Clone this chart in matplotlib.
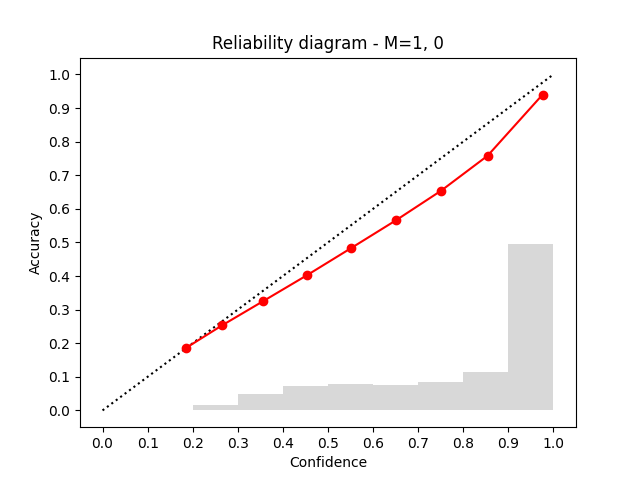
import numpy as np
import matplotlib
matplotlib.use('Agg')
import matplotlib.pyplot as plt

# mean confidence / accuracy per bin
conf = [0.184, 0.265, 0.356, 0.453, 0.550, 0.651, 0.751, 0.854, 0.976]
acc = [0.185, 0.253, 0.325, 0.402, 0.482, 0.566, 0.654, 0.758, 0.940]

# fraction of samples per bin
bin_left = [0.2, 0.3, 0.4, 0.5, 0.6, 0.7, 0.8, 0.9]
bin_frac = [0.015, 0.048, 0.074, 0.080, 0.077, 0.086, 0.113, 0.494]

ticks = np.arange(0, 1.01, 0.1)

fig, ax = plt.subplots(figsize=(6.4, 4.8), dpi=100)
ax.bar(bin_left, bin_frac, width=0.1, align='edge', color='grey', alpha=0.3)
ax.plot([0, 1], [0, 1], 'k:')
ax.plot(conf, acc, 'ro-')

ax.set_xticks(ticks)
ax.set_yticks(ticks)
ax.set_ylim(-0.05, 1.05)
ax.set_xlabel('Confidence')
ax.set_ylabel('Accuracy')
ax.set_title('Reliability diagram - M=1, 0')

plt.savefig('out.png', dpi=100)
